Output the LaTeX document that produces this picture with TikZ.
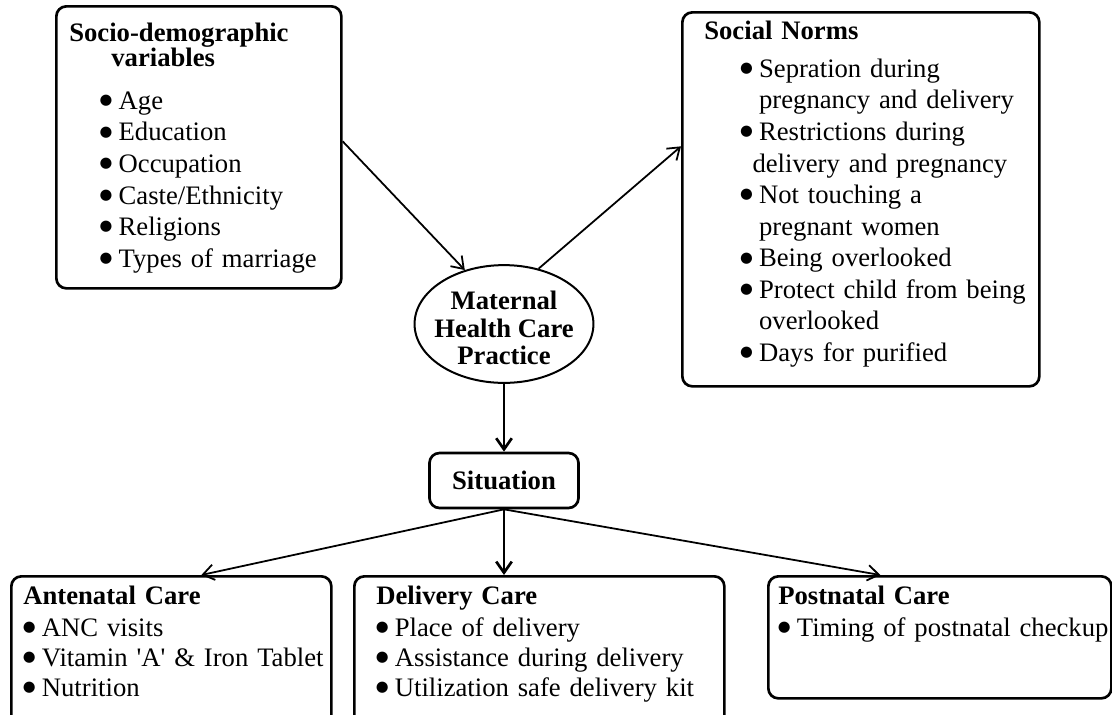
\documentclass[tikz,border=0pt]{standalone}
\usepackage{fontspec}
\setmainfont{Liberation Serif}
\newfontfamily\dotfont{DejaVu Sans}
\usetikzlibrary{arrows.meta,shapes.geometric}

\newcommand{\itm}{\makebox[8.55pt][l]{\raisebox{2.1pt}{\dotfont\fontsize{6.6}{6.6}\selectfont ●}}}

\begin{document}
\begin{tikzpicture}[x=0.45pt,y=-0.45pt,>={Straight Barb[length=5pt,width=7pt]},
    every node/.style={font=\fontsize{12}{14.2}\selectfont}]
	\tikzstyle{box}=[draw,line width=1.2pt,rounded corners=4.5pt,inner sep=0pt,anchor=north west,align=left]
	\tikzstyle{lowbox}=[box,font=\fontsize{12}{13.5}\selectfont,text height=12.6pt]
	\tikzstyle{core}=[draw,ellipse,line width=0.9pt,inner sep=0pt,minimum width=80.5pt,minimum height=53pt]
	\tikzstyle{link}=[->,line width=0.8pt]
	\tikzstyle{bold link}=[->,line width=1.2pt]

	\useasboundingbox (0,0) rectangle (1112,714);
	\clip (0,0) rectangle (1112,714);

	% influences
	\node[box,text width=128.25pt,text height=15.75pt,text depth=111.15pt] (socio) at (55,5)
		{\hspace*{5.85pt}\textbf{Socio-demographic}\\[-2.95pt]
		 \hspace*{24.75pt}\textbf{variables}\\[5.15pt]
		 \hspace*{19.5pt}\itm Age\\
		 \hspace*{19.5pt}\itm Education\\
		 \hspace*{19.5pt}\itm Occupation\\
		 \hspace*{19.5pt}\itm Caste/Ethnicity\\
		 \hspace*{19.5pt}\itm Religions\\
		 \hspace*{19.5pt}\itm Types of marriage};

	\node[box,text width=160.65pt,text height=12.15pt,text depth=156.15pt] (social) at (681,11)
		{\hspace*{9.9pt}\textbf{Social Norms}\\[2.9pt]
		 \hspace*{26pt}\itm Sepration during\\
		 \hspace*{34.55pt}pregnancy and delivery\\
		 \hspace*{26pt}\itm Restrictions during\\
		 \hspace*{31.6pt}delivery and pregnancy\\
		 \hspace*{26pt}\itm Not touching a\\
		 \hspace*{34.55pt}pregnant women\\
		 \hspace*{26pt}\itm Being overlooked\\
		 \hspace*{26pt}\itm Protect child from being\\
		 \hspace*{34.55pt}overlooked\\
		 \hspace*{26pt}\itm Days for purified};

	\node[core] (mhcp) at (504,324) {};
	\node[align=center,inner sep=0pt,font=\fontsize{12}{12.3}\selectfont\bfseries] (mhcp text) at (504,328) {Maternal\\Health Care\\Practice};
	\node[box,anchor=center,minimum width=67.05pt,minimum height=24.75pt,font=\fontsize{12}{14.2}\selectfont\bfseries] (situation) at (504,480.5) {Situation};

	% care stages
	\node[lowbox,text width=144pt,text depth=65.25pt] (antenatal) at (10,575)
		{\hspace*{5.4pt}\textbf{Antenatal Care}\\[0.9pt]
		 \hspace*{5.2pt}\itm ANC visits\\
		 \hspace*{5.2pt}\itm Vitamin \textquotesingle A\textquotesingle{} \& Iron Tablet\\
		 \hspace*{5.2pt}\itm Nutrition};
	\node[lowbox,text width=166.5pt,text depth=65.25pt] (delivery) at (353,575)
		{\hspace*{9.9pt}\textbf{Delivery Care}\\[0.9pt]
		 \hspace*{9.7pt}\itm Place of delivery\\
		 \hspace*{9.7pt}\itm Assistance during delivery\\
		 \hspace*{9.7pt}\itm Utilization safe delivery kit};
	\node[lowbox,text width=154.35pt,text depth=42.3pt] (postnatal) at (767,575)
		{\hspace*{4.5pt}\textbf{Postnatal Care}\\[0.9pt]
		 \hspace*{4.3pt}\itm Timing of postnatal checkup};

	\draw[link] ([yshift=2.7pt]socio.east) -- (mhcp.126);
	\draw[link] (mhcp.58) -- ([yshift=23.85pt]social.west);
	\draw[bold link] (mhcp) -- (situation);

	\draw[link] (situation.south) -- ([xshift=13.5pt]antenatal.north);
	\draw[bold link] (situation.south) -- (situation.south |- delivery.north);
	\draw[link] (situation.south) -- ([xshift=-26.8pt]postnatal.north);
\end{tikzpicture}
\end{document}
